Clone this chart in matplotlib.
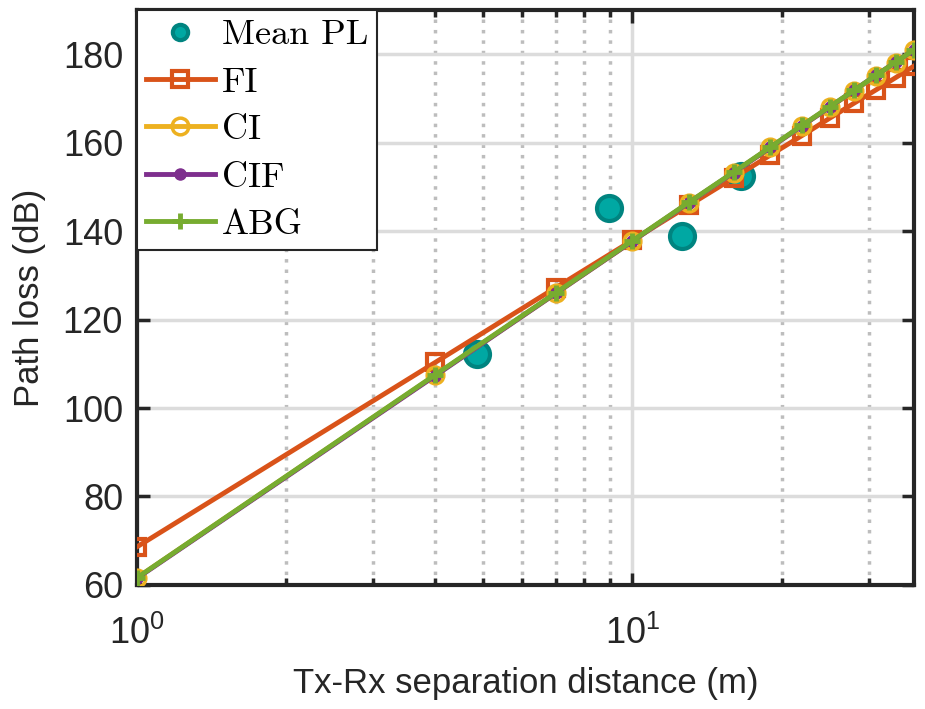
import numpy as np
import matplotlib
matplotlib.use("Agg")
import matplotlib.pyplot as plt
from matplotlib.ticker import LogLocator, NullFormatter

plt.rcParams["font.family"] = ["Liberation Sans", "DejaVu Sans"]
plt.rcParams["mathtext.fontset"] = "custom"
plt.rcParams["mathtext.rm"] = "Liberation Sans"

# -----------------------------------------------------------------------------
# Dados
# -----------------------------------------------------------------------------
d_mean = [4.85, 8.95, 12.6, 16.6]
pl_mean = [112.1, 145.3, 138.8, 152.4]

d_model = [1, 4, 7, 10, 13, 16, 19, 22, 25, 28, 31, 34, 37]
pl_fi = [68.6, 110.3, 127.2, 137.9, 145.8, 152.0, 157.2, 161.6, 165.5, 168.9, 171.9, 174.7, 177.3]
pl_ci = [61.6, 107.4, 125.9, 137.7, 146.4, 153.2, 158.9, 163.8, 168.0, 171.7, 175.1, 178.1, 180.9]
pl_cif = [61.5, 107.3, 125.9, 137.7, 146.4, 153.2, 158.9, 163.8, 168.0, 171.8, 175.2, 178.2, 181.0]
pl_abg = [61.6, 107.5, 126.0, 137.8, 146.5, 153.3, 159.0, 163.9, 168.1, 171.8, 175.2, 178.2, 181.0]

c_fi = "#D95319"
c_ci = "#EDB120"
c_cif = "#7E2F8E"
c_abg = "#77AC30"

# -----------------------------------------------------------------------------
# Figura
# -----------------------------------------------------------------------------
fig = plt.figure(figsize=(9.25, 7.09), dpi=100)
ax = fig.add_axes([0.148, 0.175, 0.840, 0.811])

ax.plot(d_mean, pl_mean, "o", ms=18, mfc="#00A8A3", mec="#008480", mew=3,
        label="Mean PL", zorder=3)
ax.plot(d_model, pl_fi, "-s", color=c_fi, lw=3.5, ms=11, mfc="none", mew=3,
        label="FI", zorder=4)
ax.plot(d_model, pl_ci, "-o", color=c_ci, lw=3.5, ms=12, mfc="none", mew=2.5,
        label="CI", zorder=5)
ax.plot(d_model, pl_cif, "-o", color=c_cif, lw=3.5, ms=8, label="CIF", zorder=6)
ax.plot(d_model, pl_abg, "-+", color=c_abg, lw=3.5, ms=12, mew=3.5,
        label="ABG", zorder=7)

ax.set_xscale("log")
ax.set_xlim(1, 37)
ax.set_ylim(60, 190)
ax.set_yticks(np.arange(60, 181, 20))
ax.xaxis.set_minor_locator(LogLocator(base=10, subs=np.arange(2, 10)))
ax.xaxis.set_minor_formatter(NullFormatter())

ax.grid(True, which="major", color="#DCDCDC", lw=2.5, ls="-")
ax.grid(True, which="minor", axis="x", color="#BDBDBD", lw=2.5, ls=(0, (1, 2)))
ax.set_axisbelow(True)

ax.tick_params(which="both", direction="in", top=True, right=True,
               labelsize=26, colors="#262626", width=2.5)
ax.tick_params(which="major", length=9)
ax.tick_params(which="minor", length=5)
ax.tick_params(axis="x", pad=22)
ax.tick_params(axis="y", pad=10)
for s in ax.spines.values():
    s.set_linewidth(3)
    s.set_color("#262626")

ax.set_xlabel("Tx-Rx separation distance (m)", fontsize=25, color="#262626", labelpad=11)
ax.set_ylabel("Path loss (dB)", fontsize=25, color="#262626", labelpad=12)

leg = ax.legend(loc="upper left", prop={"family": "cmr10", "size": 26},
                fancybox=False, framealpha=1, edgecolor="#262626",
                borderaxespad=0, handlelength=1.9, handletextpad=0.2,
                labelspacing=0.42, borderpad=0.25)
leg.get_frame().set_linewidth(1.5)
leg.legend_handles[0].set_markersize(11)

fig.savefig("out.png", dpi=100)
